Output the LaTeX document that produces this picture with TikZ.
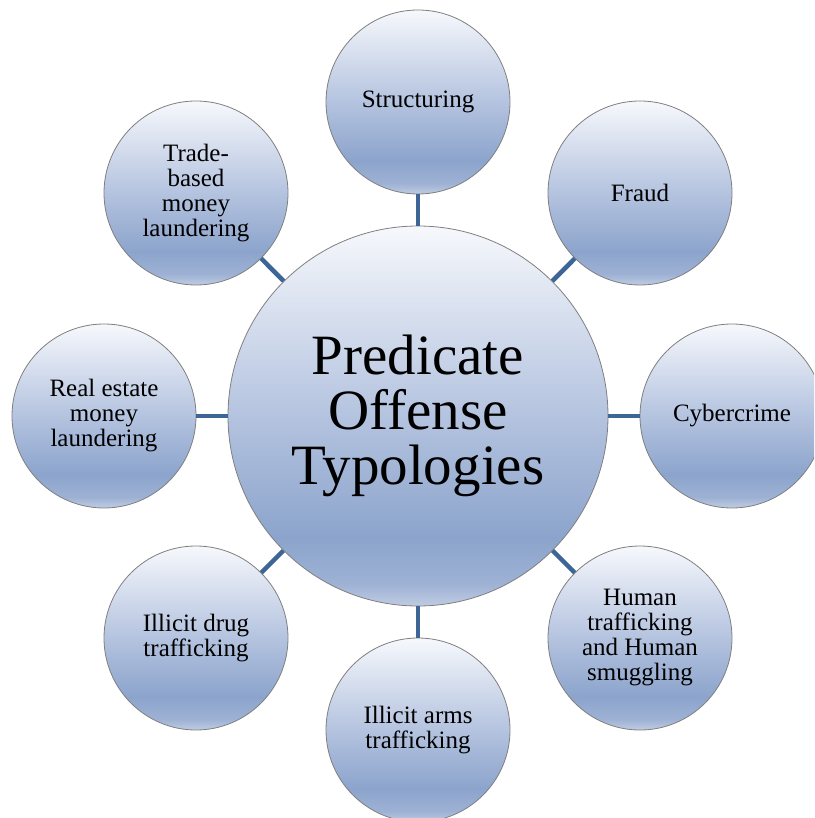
\documentclass[tikz,border=0pt]{standalone}
\usepackage{fontspec}
\setmainfont{Liberation Serif}
\definecolor{shA}{HTML}{BFCBE2}
\definecolor{shB}{HTML}{9DB1D4}
\definecolor{shC}{HTML}{8CA4CC}
\definecolor{shD}{HTML}{B4C3DF}
\definecolor{shE}{HTML}{F6F8FC}
\definecolor{linkc}{HTML}{3D6697}
\definecolor{rimc}{HTML}{7F7F7F}
\pgfdeclareverticalshading{bubble}{100bp}{color(0bp)=(shA); color(25bp)=(shA); color(28bp)=(shB); color(34bp)=(shC); color(50bp)=(shD); color(75bp)=(shE); color(100bp)=(shE)}
\tikzset{
  hub/.style={circle, draw=rimc, line width=0.8pt, shading=bubble, minimum size=380pt, inner sep=0pt, align=center, font=\fontsize{57}{55}\selectfont},
  leaf/.style={circle, draw=rimc, line width=0.8pt, shading=bubble, minimum size=184pt, inner sep=0pt, align=center, font=\fontsize{25}{25}\selectfont},
  link/.style={draw=linkc, line width=4.5pt}
}
\begin{document}
\begin{tikzpicture}[x=1pt,y=-1pt]
\useasboundingbox (0,0) rectangle (814,818);
\clip (0,0) rectangle (814,818);
\node[hub] (main) at (418,416) {Predicate\\Offense\\Typologies};
\node[leaf] (s) at (418,102) {Structuring};
\node[leaf] (f) at (640,193) {Fraud};
\node[leaf] (c) at (732,416) {Cybercrime};
\node[leaf] (h) at (640,638) {Human\\trafficking\\and Human\\smuggling};
\node[leaf] (a) at (418,730) {Illicit arms\\trafficking};
\node[leaf] (d) at (196,638) {Illicit drug\\trafficking};
\node[leaf] (r) at (104,416) {Real estate\\money\\laundering};
\node[leaf] (t) at (196,193) {Trade-\\based\\money\\laundering};
\foreach \n in {s,f,c,h,a,d,r,t} \draw[link] (main) -- (\n);
\end{tikzpicture}
\end{document}
